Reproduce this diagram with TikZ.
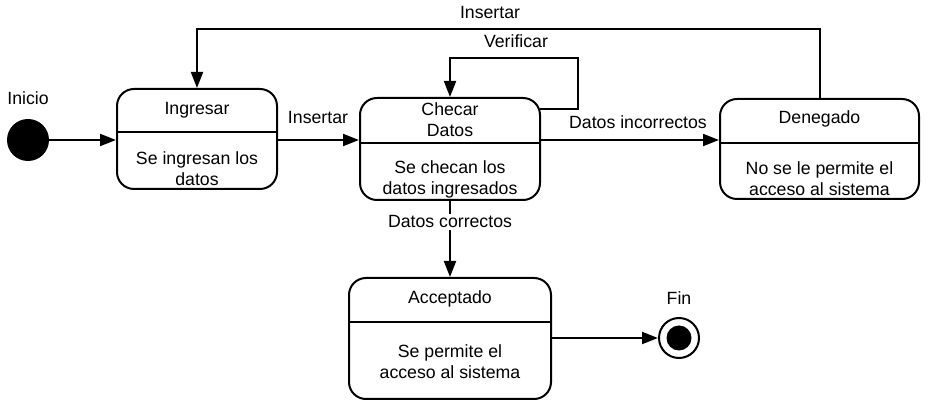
\documentclass[tikz,border=0pt]{standalone}
\usepackage{fontspec}
\setmainfont{Liberation Sans}
\usetikzlibrary{arrows.meta}
\begin{document}
\begin{tikzpicture}[x=1pt,y=-1pt,
  every node/.style={font=\fontsize{17.7}{21.5}\selectfont, inner sep=0pt},
  statebox/.style={draw, line width=2pt, rounded corners=17, minimum width=#1},
  txt/.style={align=center},
  arr/.style={line width=2pt, -{Triangle[length=16pt,width=12pt]}},
  ln/.style={line width=2pt}]
\useasboundingbox (0,0) rectangle (930,411);

% start and end
\node[circle, fill=black, minimum size=42] (start) at (28,140) {};
\node[txt] (inicio) at (28,98) {Inicio};
\node[circle, draw, line width=2pt, minimum size=40] (fin) at (679,338) {};
\node[circle, fill=black, minimum size=25] (fininner) at (679,338) {};
\node[txt] (finlbl) at (679,298) {Fin};

% states
\node[statebox=160, minimum height=100] (ing) at (197,139) {};
\draw[ln] (ing.west |- 0,132) -- (ing.east |- 0,132);
\node[txt] (ingt) at (197,110) {Ingresar};
\node[txt] (ingb) at (197,168.5) {Se ingresan los\\datos};

\node[statebox=180, minimum height=102] (chk) at (450,149) {};
\draw[ln] (chk.west |- 0,143) -- (chk.east |- 0,143);
\node[txt] (chkt) at (450,119.5) {Checar\\Datos};
\node[txt] (chkb) at (450,179.5) {Se checan los\\datos ingresados};

\node[statebox=199, minimum height=100] (den) at (819.5,149) {};
\draw[ln] (den.west |- 0,143) -- (den.east |- 0,143);
\node[txt] (dent) at (819.5,119) {Denegado};
\node[txt] (denb) at (819.5,178.5) {No se le permite el\\acceso al sistema};

\node[statebox=202, minimum height=121] (acc) at (450,338.5) {};
\draw[ln] (acc.west |- 0,322) -- (acc.east |- 0,322);
\node[txt] (acct) at (450,299) {Acceptado};
\node[txt] (accb) at (450,361.5) {Se permite el\\acceso al sistema};

% connectors
\draw[arr] (start) -- (start -| ing.west);
\draw[arr] (ing.east |- start) -- (chk.west |- start);
\node[txt] (l1) at (318,118) {Insertar};
\draw[arr] (chk.east |- start) -- (den.west |- start);
\node[txt] (l2) at (638,122) {Datos incorrectos};

\coordinate (v0) at (540,109);
\coordinate (v1) at (578,58);
\draw[arr] (v0) -| (v1) -| (chk.north);
\node[txt] (l3) at (516,41) {Verificar};

\coordinate (t1) at (197,29);
\draw[arr] (den.north) |- (t1) -- (ing.north);
\node[txt] (l4) at (490,13) {Insertar};

\draw[arr] (chk.south) -- (acc.north);
\node[txt, fill=white, inner sep=2pt] (l5) at (450,222) {Datos correctos};

\draw[arr] (acc.east |- fin) -- (fin.west);
\end{tikzpicture}
\end{document}
